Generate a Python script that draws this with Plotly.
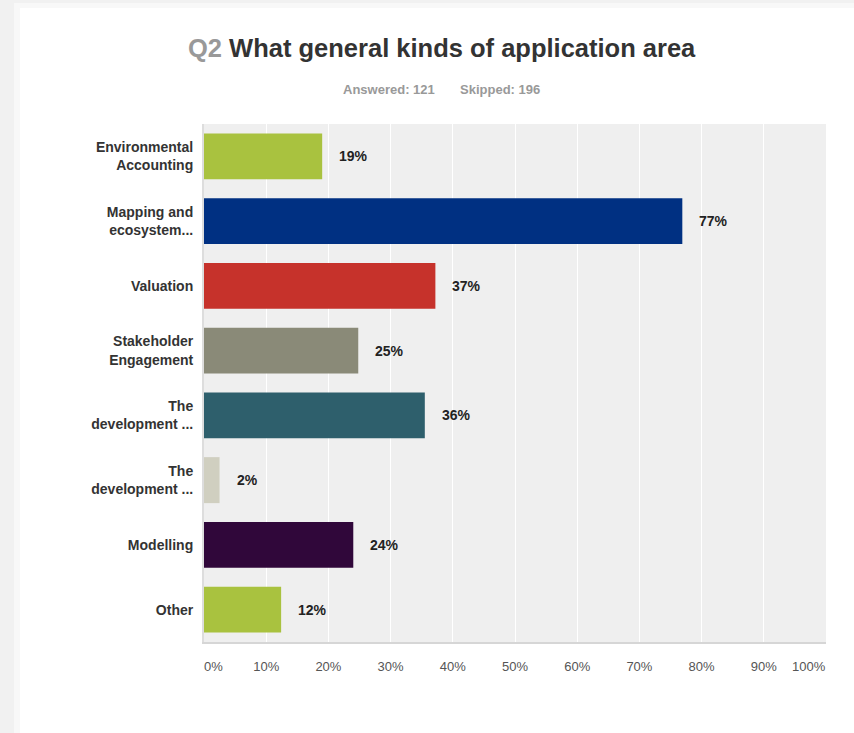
import plotly.graph_objects as go

categories = [
    "Environmental<br>Accounting",
    "Mapping and<br>ecosystem...",
    "Valuation",
    "Stakeholder<br>Engagement",
    "The<br>development ...",
    "The<br>development ...",
    "Modelling",
    "Other",
]
values = [19.0, 76.9, 37.2, 24.8, 35.5, 2.5, 24.0, 12.4]
value_labels = ["19%", "77%", "37%", "25%", "36%", "2%", "24%", "12%"]
colors = ["#a9c23f", "#003082", "#c6322b", "#8a8a78", "#2e5f6c", "#d0cfc0", "#30073a", "#a9c23f"]
tick_vals = [0, 10, 20, 30, 40, 50, 60, 70, 80, 90, 100]
tick_text = ["0%", "10%", "20%", "30%", "40%", "50%", "60%", "70%", "80%", "90%", "100%"]

W, H = 854, 733
ML, MR, MT, MB = 204, 28, 124, 91
PW, PH = W - ML - MR, H - MT - MB

def px_x(px):
    return (px - ML) / PW

def px_y(py):
    return 1 - (py - MT) / PH

FONT = "Arial, Liberation Sans, sans-serif"
TICKFONT = dict(family=FONT, size=13, color="#555555")

# first/last tick labels are aligned inside the axis ends, as in the original
disp_ticks = [""] + tick_text[1:-1] + [""]

fig = go.Figure()
fig.add_trace(go.Bar(
    y=list(range(len(categories))),
    x=values,
    orientation="h",
    marker=dict(color=colors, line=dict(width=0)),
    hoverinfo="skip",
))

annotations = []
for i, (v, lab) in enumerate(zip(values, value_labels)):
    annotations.append(dict(
        x=v, y=i, xref="x", yref="y", text=f"<b>{lab}</b>", showarrow=False,
        xanchor="left", xshift=15, font=dict(family=FONT, size=14, color="#222")))

annotations.append(dict(
    x=tick_vals[0], y=px_y(666), xref="x", yref="paper", text=tick_text[0],
    showarrow=False, xanchor="left", yanchor="middle", xshift=-2, font=TICKFONT))
annotations.append(dict(
    x=tick_vals[-1], y=px_y(666), xref="x", yref="paper", text=tick_text[-1],
    showarrow=False, xanchor="right", yanchor="middle", xshift=2, font=TICKFONT))

annotations.append(dict(
    x=px_x(442), y=px_y(48), xref="paper", yref="paper", showarrow=False,
    xanchor="center", yanchor="middle",
    text="<span style='color:#999999'>Q2</span> What general kinds of application area",
    font=dict(family=FONT, size=25.5, color="#333333", weight="bold")))
annotations.append(dict(
    x=px_x(441), y=px_y(89), xref="paper", yref="paper", showarrow=False,
    xanchor="center", yanchor="middle",
    text="Answered: 121" + "&nbsp;" * 7 + "Skipped: 196",
    font=dict(family=FONT, size=13, color="#999999", weight="bold")))

shapes = []
shapes.append(dict(type="rect", xref="paper", yref="paper", layer="below",
                   x0=px_x(0), x1=px_x(W), y0=px_y(0), y1=px_y(H),
                   fillcolor="#f1f1f1", line=dict(width=0)))
shapes.append(dict(type="rect", xref="paper", yref="paper", layer="below",
                   x0=px_x(14), x1=px_x(W), y0=px_y(3), y1=px_y(H),
                   fillcolor="#f8f8f8", line=dict(width=0)))
shapes.append(dict(type="rect", xref="paper", yref="paper", layer="below",
                   x0=px_x(20), x1=px_x(W), y0=px_y(8), y1=px_y(H),
                   fillcolor="#ffffff", line=dict(width=0)))
shapes.append(dict(type="rect", xref="paper", yref="paper", layer="below",
                   x0=0, x1=1, y0=0, y1=1, fillcolor="#efefef", line=dict(width=0)))

fig.update_layout(
    width=W, height=H,
    margin=dict(l=ML, r=MR, t=MT, b=MB, pad=0),
    paper_bgcolor="#ffffff",
    plot_bgcolor="rgba(0,0,0,0)",
    bargap=0.29,
    showlegend=False,
    annotations=annotations,
    shapes=shapes,
    xaxis=dict(
        range=[0, 100], tickvals=tick_vals, ticktext=disp_ticks,
        showgrid=True, gridcolor="#ffffff", gridwidth=1,
        zeroline=False, showline=True, linecolor="#d6d6d6", linewidth=2,
        ticks="", ticklabelstandoff=11,
        tickfont=TICKFONT,
        fixedrange=True,
    ),
    yaxis=dict(
        range=[7.5, -0.5], tickvals=list(range(len(categories))), ticktext=categories,
        showgrid=False, zeroline=False, showline=True, linecolor="#dddddd", linewidth=2,
        ticks="", ticklabelstandoff=6,
        tickfont=dict(family=FONT, size=14, color="#333333", weight="bold"),
        fixedrange=True,
    ),
)

fig.write_html("out.html", config={"displayModeBar": False})
